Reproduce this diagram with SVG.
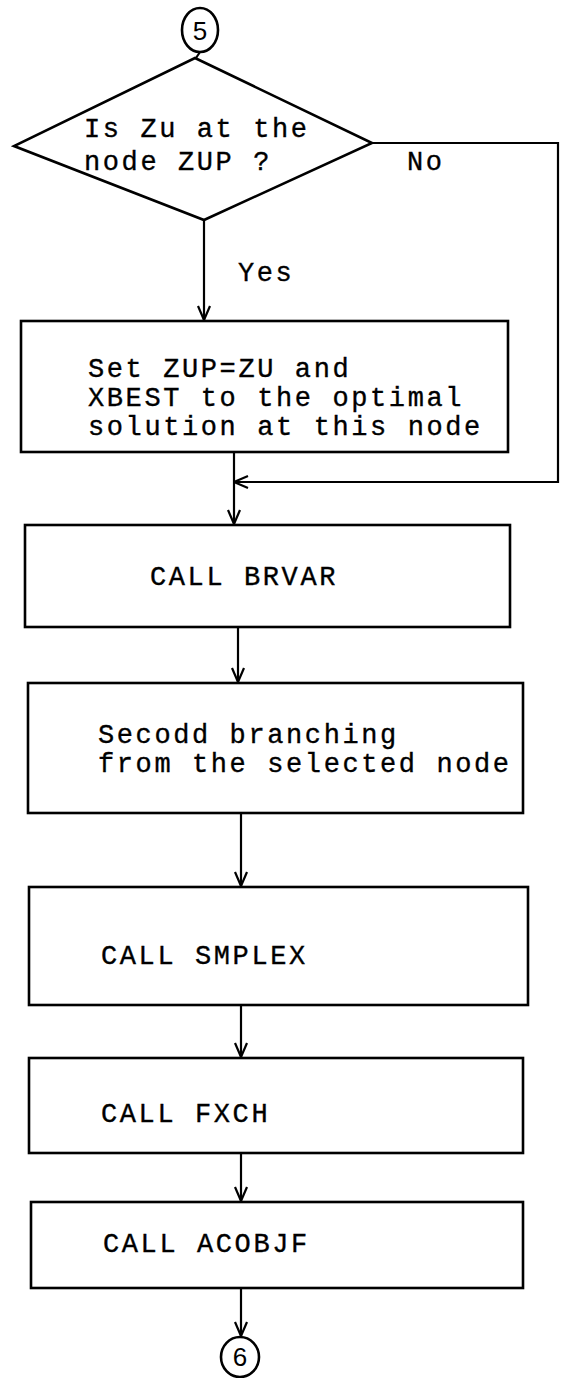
<svg xmlns="http://www.w3.org/2000/svg" width="564" height="1378" viewBox="0 0 564 1378">
<defs>
<marker id="arr" viewBox="0 0 16 16" refX="15" refY="8" markerWidth="16" markerHeight="16" markerUnits="userSpaceOnUse" orient="auto">
<path d="M1,2 L15,8 L1,14" fill="none" stroke="#000" stroke-width="2.2"/>
</marker>
</defs>
<style>
.box{fill:none;stroke:#000;stroke-width:2.6}
.ln{fill:none;stroke:#000;stroke-width:2.2}
.t{font-family:"Liberation Mono","Courier New",monospace;font-size:27px;letter-spacing:2.6px;fill:#000;stroke:#000;stroke-width:0.35}
.c{font-family:"Liberation Sans",Arial,sans-serif;font-size:26px;fill:#000}
</style>
<rect width="564" height="1378" fill="#fff"/>
<g id="connectors">
<line class="ln" x1="200" y1="52" x2="196" y2="58"/>
<line class="ln" x1="204" y1="220" x2="204" y2="320" marker-end="url(#arr)"/>
<polyline class="ln" points="372,143 558,143 558,482 234,482" marker-end="url(#arr)"/>
<line class="ln" x1="234" y1="452" x2="234" y2="524" marker-end="url(#arr)"/>
<line class="ln" x1="238" y1="627" x2="238" y2="682" marker-end="url(#arr)"/>
<line class="ln" x1="241" y1="813" x2="241" y2="886" marker-end="url(#arr)"/>
<line class="ln" x1="241" y1="1005" x2="241" y2="1057" marker-end="url(#arr)"/>
<line class="ln" x1="241" y1="1153" x2="241" y2="1201" marker-end="url(#arr)"/>
<line class="ln" x1="241" y1="1288" x2="241" y2="1336" marker-end="url(#arr)"/>
<text class="t" x="238" y="281">Yes</text>
<text class="t" x="407" y="170">No</text>
</g>
<g id="start5">
<ellipse cx="200" cy="30" rx="18" ry="22" class="box"/>
<text class="c" x="200" y="40" text-anchor="middle">5</text>
</g>
<g id="decision">
<polygon class="box" points="195,58 372,143 204,220 14,146"/>
<text class="t" x="84" y="137">Is Zu at the</text>
<text class="t" x="84" y="170">node ZUP ?</text>
</g>
<g id="setbox">
<rect class="box" x="21" y="321" width="487" height="131"/>
<text class="t" x="88" y="377">Set ZUP=ZU and</text>
<text class="t" x="88" y="406">XBEST to the optimal</text>
<text class="t" x="88" y="435">solution at this node</text>
</g>
<g id="brvar">
<rect class="box" x="25" y="525" width="485" height="102"/>
<text class="t" x="150" y="585">CALL BRVAR</text>
</g>
<g id="branching">
<rect class="box" x="28" y="683" width="495" height="130"/>
<text class="t" x="98" y="743">Secodd branching</text>
<text class="t" x="98" y="772">from the selected node</text>
</g>
<g id="smplex">
<rect class="box" x="29" y="887" width="499" height="118"/>
<text class="t" x="101" y="964">CALL SMPLEX</text>
</g>
<g id="fxch">
<rect class="box" x="29" y="1058" width="494" height="95"/>
<text class="t" x="101" y="1122">CALL FXCH</text>
</g>
<g id="acobjf">
<rect class="box" x="31" y="1202" width="492" height="86"/>
<text class="t" x="103" y="1252">CALL ACOBJF</text>
</g>
<g id="end6">
<ellipse cx="240" cy="1357" rx="19" ry="20" class="box"/>
<text class="c" x="240" y="1366" text-anchor="middle">6</text>
</g>
</svg>
